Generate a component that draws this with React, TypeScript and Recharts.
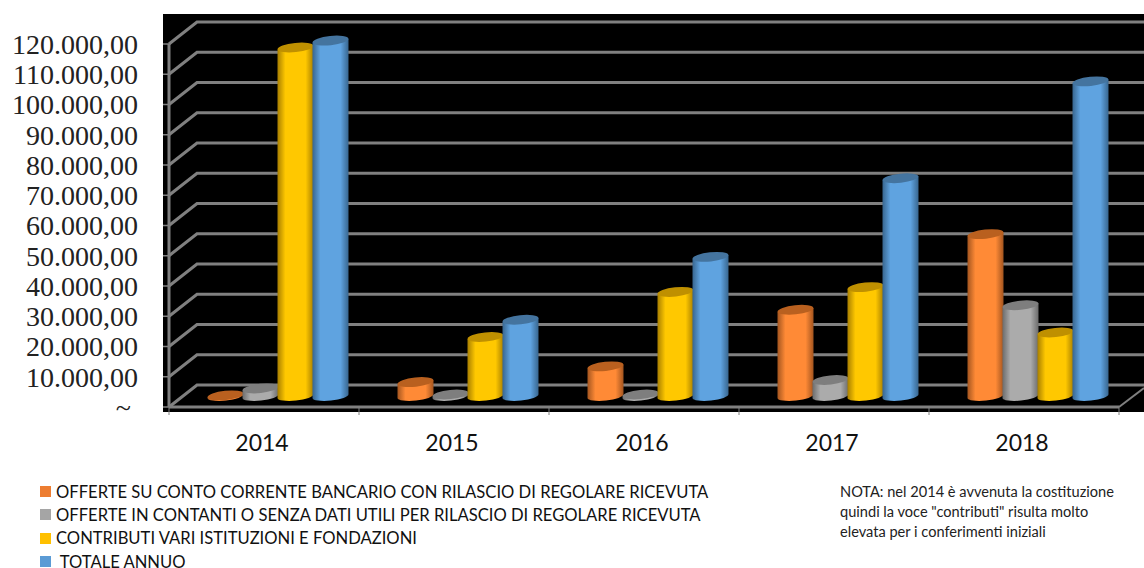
import { BarChart, Bar, XAxis, YAxis, CartesianGrid, Legend } from 'recharts';

const YEARS = ['2014', '2015', '2016', '2017', '2018'];
const OFFERTE_BANCARIO = [200, 4600, 9800, 28500, 53500];
const OFFERTE_CONTANTI = [2500, 500, 500, 5300, 30000];
const CONTRIBUTI = [115200, 19500, 34400, 36000, 21000];
const TOTALE = [117500, 25200, 46000, 72000, 104000];
const Y_TICKS = [0, 10000, 20000, 30000, 40000, 50000, 60000, 70000, 80000, 90000, 100000, 110000, 120000];
const NOTE_LINES = [
  'NOTA: nel 2014 è avvenuta la costituzione',
  'quindi la voce "contributi" risulta molto',
  'elevata per i conferimenti iniziali',
];

const SERIES = [
  { key: 'bancario', name: 'OFFERTE SU CONTO CORRENTE BANCARIO CON RILASCIO DI REGOLARE RICEVUTA', color: '#ED7D31', center: '#FF8A36', edge: '#A4551F', top: '#B9601F' },
  { key: 'contanti', name: 'OFFERTE IN CONTANTI O SENZA DATI UTILI PER RILASCIO DI REGOLARE RICEVUTA', color: '#A5A5A5', center: '#ABABAB', edge: '#6C6C6C', top: '#7E7E7E' },
  { key: 'contributi', name: 'CONTRIBUTI VARI ISTITUZIONI E FONDAZIONI', color: '#FFC000', center: '#FFC800', edge: '#A87F00', top: '#BF9000' },
  { key: 'totale', name: ' TOTALE ANNUO', color: '#5B9BD5', center: '#5FA3E0', edge: '#38668F', top: '#44749F' },
];

const chartData = YEARS.map((year, i) => ({
  year,
  bancario: OFFERTE_BANCARIO[i],
  contanti: OFFERTE_CONTANTI[i],
  contributi: CONTRIBUTI[i],
  totale: TOTALE[i],
}));

const GRID = '#808080';
const DEPTH_X = 28;
const DEPTH_Y = 22;
const BAR_SHIFT_X = 13.5;
const BAR_SHIFT_Y = 11;
const CATEGORY_STEP = 190;

function formatMoney(v: number) {
  if (v === 0) return '~\u00A0';
  return `${(v / 1000).toFixed(3)},00`;
}

// front point comes from the y scale, wall line is pushed back by the depth
function WallLine(props: any) {
  const { x1, x2, y1, index } = props;
  const backY = y1 - DEPTH_Y;
  return (
    <g key={`wall-${index}-${y1}`}>
      <polyline
        points={`${x1},${y1} ${x1 + DEPTH_X},${backY} 1144,${backY}`}
        fill="none" stroke={GRID} strokeWidth={3}
      />
      {y1 > 400 && (
        <line x1={x2} y1={y1} x2={x2 + 25} y2={y1 - 19} stroke={GRID} strokeWidth={2} />
      )}
    </g>
  );
}

function Cylinder(props: any) {
  const { x, y, width, height, seriesKey } = props;
  const s = SERIES.find((d) => d.key === seriesKey)!;
  const left = x + BAR_SHIFT_X;
  const w = width + 1;
  const top = y - BAR_SHIFT_Y;
  const base = y + height - BAR_SHIFT_Y;
  const rx = w / 2;
  const ry = 4.6;
  const lean = 1.9; // the whole cylinder leans, left end sits lower than the right
  return (
    <g>
      <path
        d={`M${left},${top + lean} L${left},${base + lean} A${rx},${ry} -6 0 0 ${left + w},${base - lean} L${left + w},${top - lean} Z`}
        fill={`url(#cyl-${s.key})`}
      />
      <ellipse cx={left + rx} cy={top} rx={rx} ry={ry} fill={s.top} transform={`rotate(-6 ${left + rx} ${top})`} />
    </g>
  );
}

function YearTick(props: any) {
  const { x, y, payload, index } = props;
  const edge = x - CATEGORY_STEP / 2;
  return (
    <g>
      <line x1={edge} y1={y - 8} x2={edge} y2={y} stroke={GRID} strokeWidth={1} />
      {index === YEARS.length - 1 && (
        <line x1={edge + CATEGORY_STEP} y1={y - 8} x2={edge + CATEGORY_STEP} y2={y} stroke={GRID} strokeWidth={1} />
      )}
      <text x={x - 2} y={y + 36} textAnchor="middle" fontFamily="Lato" fontSize={23} fill="#111">
        {payload.value}
      </text>
    </g>
  );
}

function LegendRows({ payload }: any) {
  return (
    <div style={{ display: 'flex', flexDirection: 'column', gap: 11.4, fontFamily: 'Lato', fontSize: 16.6, lineHeight: '12px', color: '#111' }}>
      {(payload || []).map((item: any) => (
        <div key={item.value} style={{ height: 12, display: 'flex', alignItems: 'center', whiteSpace: 'pre' }}>
          <span style={{ width: 11, height: 11, background: item.color, marginRight: 5, flex: 'none' }} />
          {item.value}
        </div>
      ))}
    </div>
  );
}

export default function App() {
  return (
    <div style={{ position: 'fixed', left: 0, top: 0, width: 1144, height: 568, background: '#fff', overflow: 'hidden' }}>
      <div style={{ position: 'absolute', left: 163, top: 14, width: 981, height: 398, background: '#000' }} />
      <BarChart
        width={1144} height={568} data={chartData}
        margin={{ top: 44, right: 25, left: 9, bottom: 19 }}
        barCategoryGap={25} barGap={0}
        style={{ position: 'absolute', left: 0, top: 0 }}
      >
        <defs>
          {SERIES.map((s) => (
            <linearGradient key={s.key} id={`cyl-${s.key}`} x1="0" y1="0" x2="1" y2="0">
              <stop offset="0%" stopColor={s.edge} />
              <stop offset="22%" stopColor={s.center} />
              <stop offset="78%" stopColor={s.center} />
              <stop offset="100%" stopColor={s.edge} />
            </linearGradient>
          ))}
        </defs>
        <CartesianGrid vertical={false} horizontal={WallLine} />
        <XAxis
          dataKey="year" height={60} axisLine={{ stroke: GRID, strokeWidth: 3 }}
          tickLine={false} tick={YearTick} interval={0}
        />
        <YAxis
          width={160} domain={[0, 120000]} ticks={Y_TICKS} interval={0} tickFormatter={formatMoney}
          axisLine={{ stroke: GRID, strokeWidth: 3 }} tickLine={{ stroke: GRID, strokeWidth: 1.5 }}
          tickSize={6} tickMargin={25}
          tick={{ fill: '#222', fontFamily: 'Liberation Serif', fontSize: 28 }}
        />
        {SERIES.map((s) => (
          <Bar
            key={s.key} dataKey={s.key} name={s.name} fill={s.color}
            isAnimationActive={false}
            shape={(p: any) => <Cylinder {...p} seriesKey={s.key} />}
          />
        ))}
        <Legend
          content={LegendRows} height={82} itemSorter="dataKey"
          wrapperStyle={{ left: 40, top: 485.5, width: 800, height: 82 }}
        />
      </BarChart>
      <div style={{ position: 'absolute', left: 840, top: 482, fontFamily: 'Lato', fontSize: 14.6, lineHeight: '20px', color: '#222', whiteSpace: 'pre' }}>
        {NOTE_LINES.map((line) => (
          <div key={line}>{line}</div>
        ))}
      </div>
    </div>
  );
}
